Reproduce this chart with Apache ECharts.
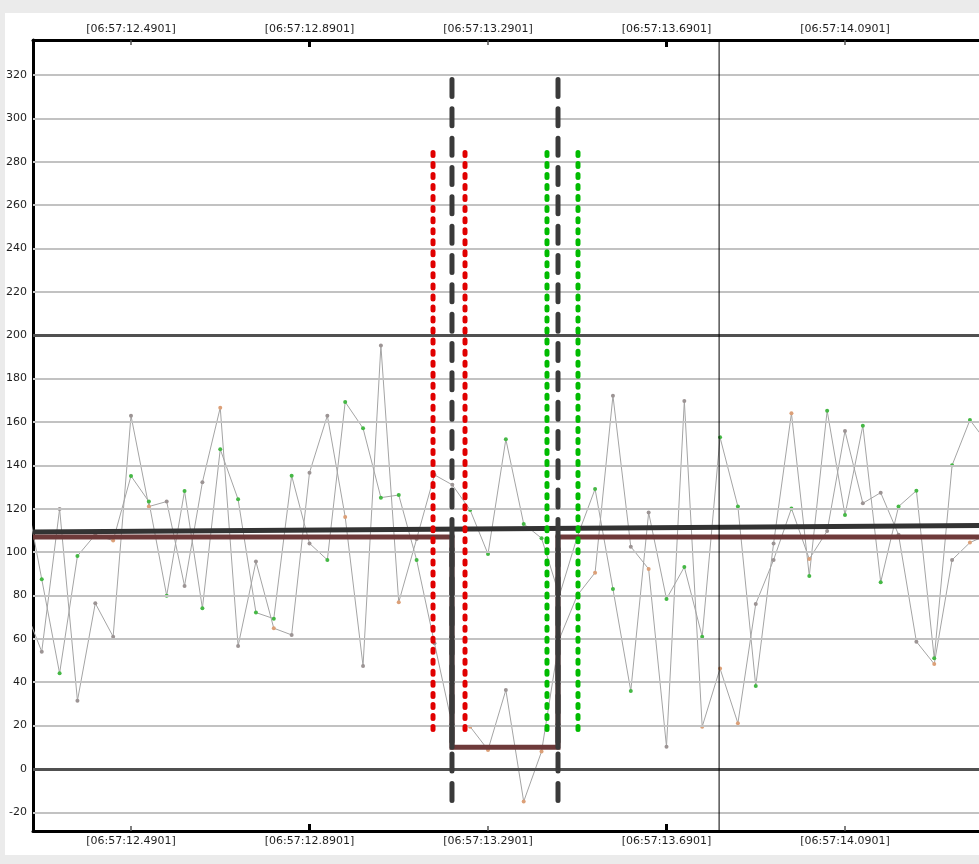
<!DOCTYPE html>
<html><head><meta charset="utf-8">
<script src="https://cdn.jsdelivr.net/npm/echarts@6/dist/echarts.min.js"></script>
<style>
html,body{margin:0;padding:0;background:#ebebeb;width:979px;height:864px;overflow:hidden}
#c{position:absolute;left:5px;top:13px;width:974px;height:842px;background:#fff}
</style></head><body><div id="c"></div>
<script>
// ---- data ----
const times = [12.2501,12.2901,12.3301,12.3701,12.4101,12.4501,12.4901,12.5301,12.5701,12.6101,
  12.6501,12.6901,12.7301,12.7701,12.8101,12.8501,12.8901,12.9301,12.9701,13.0101,
  13.0501,13.0901,13.1301,13.1701,13.2101,13.2501,13.2901,13.3301,13.3701,13.4101,
  13.4501,13.4901,13.5301,13.5701,13.6101,13.6501,13.6901,13.7301,13.7701,13.8101,
  13.8501,13.8901,13.9301,13.9701,14.0101,14.0501,14.0901,14.1301,14.1701,14.2101,
  14.2501,14.2901,14.3301,14.3701,14.4101];
const seriesA = [131,87.5,44.1,98.2,108,105.3,135.1,123.3,79.9,128.2,
  74.1,147.4,124.3,72.1,69.3,135.2,104,96.4,169.2,157.1,
  125.1,126.3,96.4,58,20,19.5,8.8,36.4,-15,8,
  60,80,90.5,172.1,102.5,92.2,10.3,169.7,19.5,46.3,
  21.1,76.1,96.4,120.1,96.8,109.7,155.8,122.5,127.4,108,
  58.7,48.4,96.4,104.4,108];
const seriesB = [75,54.1,119.9,31.5,76.4,61,162.9,121,123.3,84.4,
  132.2,166.6,56.7,95.6,64.9,61.8,136.6,162.9,116.2,47.5,
  195.2,76.9,106,135.6,131,119.4,99.1,152,113,106.4,
  80,107,129.1,83,36,118.2,78.4,93.1,61,152.9,
  121,38.3,104,164,89,165.2,117.1,158.3,86.1,121,
  128.3,51,140,160.9,150];
// point classes: g = green, n = neutral, o = orange
const classA = ['n','g','g','g','n','o','g','g','g','g',
  'g','g','g','g','g','g','n','g','g','g',
  'g','g','g','n','n','o','o','n','o','o',
  'n','n','o','n','n','o','n','n','o','o',
  'o','n','n','g','o','n','n','n','n','n',
  'n','o','n','o','n'];
const classB = ['n','n','n','n','n','n','n','o','n','n',
  'n','o','n','n','o','n','n','n','o','n',
  'n','o','n','n','n','g','g','g','g','g',
  'n','g','g','g','g','n','g','g','g','g',
  'g','g','n','o','g','g','g','g','g','g',
  'g','g','g','g','g'];
const xTicks = [12.4901,12.8901,13.2901,13.6901,14.0901];
const xMajorTicks = [12.8901,13.6901];
const xMinorTicks = [12.4901,13.2901,14.0901];
const yTicks = [-20,0,20,40,60,80,100,120,140,160,180,200,220,240,260,280,300,320];
const yStrong = [0,200];
const X_MIN = 12.2705, X_MAX = 14.3904;
const Y_MIN = -28.6, Y_MAX = 336.1;
const trendEnds = [109.3,112.2];
const baseLevel = 107, stepLevel = 10;
const stepStart = 13.2094, stepEnd = 13.4470;
const blackDashX = [13.2094,13.4470];
const blackDashRange = [-14.5,317.9];
const redDotX = [13.1669,13.2386];
const greenDotX = [13.4223,13.4918];
const dotRange = [18.2,284.2];
const cursorX = 13.808;

// ---- chart ----
const FONT = 'DejaVu Sans';
const colorOf = {g:'#45b845', n:'#9c9494', o:'#dca078'};
const chart = echarts.init(document.getElementById('c'), null, {renderer:'canvas'});
const fmt = v => '[06:57:' + Number(v).toFixed(4) + ']';
const labelStyle = {fontFamily:FONT, fontSize:11, color:'#1e1e1e'};

function xa(pos, isMajor){
  return {
    type:'value', position:pos, min:X_MIN, max:X_MAX,
    splitLine:{show:false},
    axisLine:{show:!isMajor, onZero:false, lineStyle:{color:'#000', width:3}},
    axisTick:{show:true, inside:true, customValues: isMajor ? xMajorTicks : xMinorTicks,
      length: isMajor ? 7 : 5, lineStyle:{color: isMajor ? '#000' : '#555', width: isMajor ? 3 : 1.5}},
    axisLabel: isMajor ? {show:false} : Object.assign({show:true, customValues:xTicks, formatter:fmt, margin:5}, labelStyle)
  };
}

function vline(x, range, color, width, dash, z){
  return {type:'line', data:[[x, range[0]],[x, range[1]]], symbol:'none', silent:true,
    lineStyle:{color, width, type:dash || 'solid', cap:'round'}, z, animation:false};
}

const series = [
  {type:'line', data:[], z:1, silent:true,
   markLine:{silent:true, symbol:'none', label:{show:false}, animation:false,
     data: yTicks.map(v => ({yAxis:v, lineStyle:{type:'solid',
       color: yStrong.includes(v) ? '#505050' : '#c2c2c2', width: yStrong.includes(v) ? 3 : 2}}))}},
  {type:'line', data: times.map((t,i)=>[t, seriesA[i]]), z:2, symbol:'circle', symbolSize:4,
   showAllSymbol:true, lineStyle:{color:'#a4a4a4', width:1},
   itemStyle:{color: p => colorOf[classA[p.dataIndex]]}, animation:false},
  {type:'line', data: times.map((t,i)=>[t, seriesB[i]]), z:2, symbol:'circle', symbolSize:4,
   showAllSymbol:true, lineStyle:{color:'#a4a4a4', width:1},
   itemStyle:{color: p => colorOf[classB[p.dataIndex]]}, animation:false},
  {type:'line', data:[[X_MIN, trendEnds[0]],[X_MAX, trendEnds[1]]], symbol:'none', z:3,
   lineStyle:{color:'#333', width:5}, animation:false},
  {type:'line', data:[[X_MIN, baseLevel],[stepStart, baseLevel],[stepStart, stepLevel],[stepEnd, stepLevel],[stepEnd, baseLevel],[X_MAX, baseLevel]],
   symbol:'none', z:3, lineStyle:{color:'#6e3a3a', width:5, join:'miter'}, animation:false},
  vline(stepStart, [stepLevel, baseLevel], '#3a3a3a', 5, 'solid', 4),
  vline(stepEnd, [stepLevel, baseLevel], '#3a3a3a', 5, 'solid', 4),
  vline(blackDashX[0], blackDashRange, '#3a3a3a', 5, [17,12.33], 5),
  vline(blackDashX[1], blackDashRange, '#3a3a3a', 5, [17,12.33], 5),
  vline(redDotX[0], dotRange, '#e00000', 5, [3,8.04], 6),
  vline(redDotX[1], dotRange, '#e00000', 5, [3,8.04], 6),
  vline(greenDotX[0], dotRange, '#00bb00', 5, [3,8.04], 6),
  vline(greenDotX[1], dotRange, '#00bb00', 5, [3,8.04], 6),
  vline(cursorX, [Y_MIN, Y_MAX], '#000', 1, 'solid', 7)
];
series.forEach(s => { s.xAxisIndex = 0; s.yAxisIndex = 0; });

chart.setOption({
  animation:false,
  grid:{left:28, top:27, right:0, bottom:24, containLabel:false, outerBoundsMode:'none'},
  xAxis:[xa('bottom', false), xa('top', false), xa('bottom', true), xa('top', true)],
  yAxis:{type:'value', min:Y_MIN, max:Y_MAX, position:'left',
    splitLine:{show:false},
    axisLine:{show:true, onZero:false, lineStyle:{color:'#000', width:3}},
    axisTick:{show:false},
    axisLabel:Object.assign({customValues:yTicks, margin:6}, labelStyle)},
  series
});
</script></body></html>
